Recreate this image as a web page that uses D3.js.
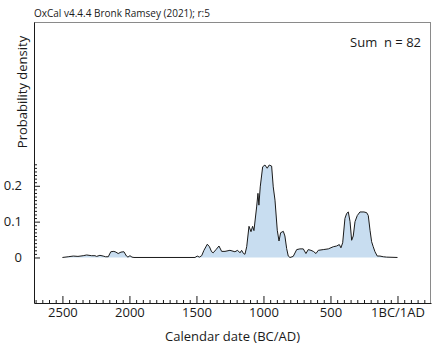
<!DOCTYPE html>
<html>
<head>
<meta charset="utf-8">
<script src="https://cdn.jsdelivr.net/npm/d3@7"></script>
<style>
  body { margin: 0; background: #fff; }
  svg { display: block; font-family: 'Open Sans', sans-serif; }
</style>
</head>
<body>
<div id="chart"></div>
<script>
// calendar years BC (positive) and summed probability density
const yearsBC = [2500, 2457, 2419, 2384, 2345, 2319, 2282, 2257, 2245, 2220, 2196, 2178, 2158,
  2139, 2116, 2101, 2084, 2063, 2041, 2022, 2011, 1996, 1981, 1966, 1511, 1494, 1478, 1461,
  1444, 1419, 1403, 1387, 1375, 1354, 1332, 1312, 1287, 1250, 1213, 1193, 1175, 1163, 1149,
  1138, 1125, 1108, 1093, 1081, 1071, 1051, 1041, 1034, 1024, 1006, 989, 972, 957, 939, 927,
  914, 897, 884, 872, 852, 840, 827, 815, 802, 778, 752, 728, 703, 683, 666, 646, 628, 608,
  591, 554, 516, 479, 454, 434, 422, 409, 392, 379, 367, 354, 342, 330, 317, 300, 280, 250,
  230, 218, 205, 193, 181, 168, 151, 131, 106, 81, 0];
const density = [0, 0.002, 0.004, 0.003, 0.005, 0.007, 0.005, 0.005, 0.003, 0.006, 0.004, 0.002, 0.002,
  0.016, 0.017, 0.015, 0.011, 0.015, 0.016, 0.004, 0.001, 0.005, 0.001, 0, 0, 0.004, 0.001, 0.005,
  0.02, 0.037, 0.03, 0.016, 0.013, 0.022, 0.032, 0.017, 0.017, 0.02, 0.016, 0.02, 0.013, 0.02, 0.011,
  0.009, 0.03, 0.087, 0.072, 0.087, 0.075, 0.141, 0.179, 0.146, 0.197, 0.253, 0.258, 0.249, 0.258, 0.255, 0.197,
  0.16, 0.076, 0.046, 0.069, 0.073, 0.06, 0.025, 0.004, 0, 0.003, 0.022, 0.024, 0.024, 0.011, 0.022, 0.02, 0.017, 0.011,
  0.02, 0.022, 0.024, 0.03, 0.032, 0.036, 0.027, 0.041, 0.109, 0.123, 0.127, 0.1, 0.048, 0.06, 0.1, 0.117, 0.127, 0.127,
  0.125, 0.117, 0.076, 0.044, 0.03, 0.016, 0.004, 0.004, 0.002, 0.001, 0];

const xTickYears = [-2500, -2000, -1500, -1000, -500, 0];
const xTickLabels = ['2500', '2000', '1500', '1000', '500', '1BC/1AD'];
const yTickValues = [0, 0.1, 0.2];
const yTickLabels = ['0', '0.1', '0.2'];

const W = 432, H = 345;
const margin = { top: 22, right: 1, bottom: 42, left: 34 };
const width = W - margin.left - margin.right;
const height = H - margin.top - margin.bottom;

const data = yearsBC.map((y, i) => ({ year: -y, p: density[i] }));

const svg = d3.select('#chart').append('svg')
  .attr('width', W)
  .attr('height', H);

const x = d3.scaleLinear().domain([-2712, 250]).range([0, width]);
const y = d3.scaleLinear().domain([-0.127, 0.657]).range([height, 0]);

const g = svg.append('g')
  .attr('transform', `translate(${margin.left},${margin.top})`);

// density curve
const area = d3.area()
  .x(d => x(d.year))
  .y0(y(0))
  .y1(d => y(d.p));
const line = d3.line()
  .x(d => x(d.year))
  .y(d => y(d.p));

g.append('path')
  .datum(data)
  .attr('d', area)
  .attr('fill', '#c8ddf0');
g.append('path')
  .datum(data)
  .attr('d', line)
  .attr('fill', 'none')
  .attr('stroke', '#1a1a1a')
  .attr('stroke-width', 1);

// frame - top and right are grey
g.append('line').attr('x1', 0).attr('x2', width).attr('y1', 0.5).attr('y2', 0.5)
  .attr('stroke', '#8a8a8a');
g.append('line').attr('x1', width - 0.5).attr('x2', width - 0.5).attr('y1', 0).attr('y2', height)
  .attr('stroke', '#8a8a8a');

// x axis, ticks point inwards
const xMinor = d3.range(-2700, 201, 50).filter(v => v % 500 !== 0);
g.append('g')
  .attr('transform', `translate(0,${height})`)
  .call(d3.axisBottom(x).tickValues(xMinor).tickSize(-3).tickFormat(''))
  .call(s => s.select('.domain').remove());
const xAxis = g.append('g')
  .attr('transform', `translate(0,${height})`)
  .call(d3.axisBottom(x).tickValues(xTickYears).tickSize(-7).tickPadding(5)
    .tickFormat((d, i) => xTickLabels[i]).tickSizeOuter(0));
xAxis.selectAll('text').attr('font-size', 13).attr('fill', '#1a1a1a')
  .attr('font-family', "'Open Sans', sans-serif");

// y axis
const yMinor = d3.range(0, 27).map(v => v / 100).filter(v => Math.round(v * 100) % 10 !== 0);
g.append('g')
  .call(d3.axisLeft(y).tickValues(yMinor).tickSize(-3).tickFormat(''))
  .call(s => s.select('.domain').remove());
const yAxis = g.append('g')
  .call(d3.axisLeft(y).tickValues(yTickValues).tickSize(-6).tickPadding(12)
    .tickFormat((d, i) => yTickLabels[i]).tickSizeOuter(0));
yAxis.selectAll('text').attr('font-size', 13).attr('fill', '#1a1a1a')
  .attr('font-family', "'Open Sans', sans-serif");

svg.selectAll('.domain, .tick line').attr('stroke', '#1a1a1a');

// labels
svg.append('text')
  .attr('x', margin.left)
  .attr('y', 17)
  .attr('font-size', 10)
  .attr('fill', '#1a1a1a')
  .text('OxCal v4.4.4 Bronk Ramsey (2021); r:5');

svg.append('text')
  .attr('x', 421)
  .attr('y', 47)
  .attr('text-anchor', 'end')
  .attr('font-size', 13)
  .attr('fill', '#1a1a1a')
  .attr('xml:space', 'preserve')
  .text('Sum  n = 82');

svg.append('text')
  .attr('transform', `translate(27,${margin.top + 70}) rotate(-90)`)
  .attr('text-anchor', 'middle')
  .attr('font-size', 13)
  .attr('fill', '#1a1a1a')
  .text('Probability density');

svg.append('text')
  .attr('x', margin.left + width / 2)
  .attr('y', 341)
  .attr('text-anchor', 'middle')
  .attr('font-size', 13)
  .attr('fill', '#1a1a1a')
  .text('Calendar date (BC/AD)');
</script>
</body>
</html>
